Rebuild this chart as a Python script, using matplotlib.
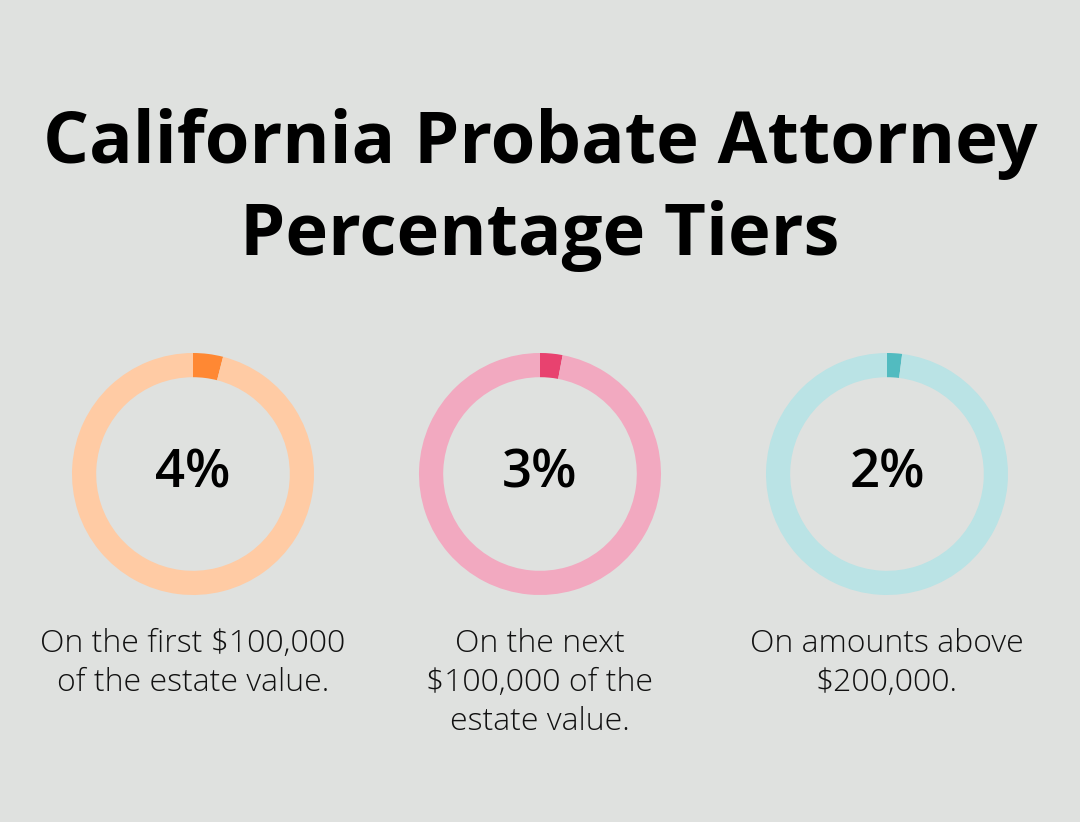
import matplotlib
matplotlib.use("Agg")
import matplotlib.pyplot as plt

title = "California Probate Attorney\nPercentage Tiers"
percents = [4, 3, 2]
labels = ["4%", "3%", "2%"]
descriptions = ["On the first $100,000\nof the estate value.",
                "On the next\n$100,000 of the\nestate value.",
                "On amounts above\n$200,000."]
dark_colors = ["#FF8833", "#E8426F", "#52BBC0"]
light_colors = ["#FFCBA4", "#F2A9C0", "#BAE3E5"]

W, H = 1080, 822
fig = plt.figure(figsize=(W/100, H/100), dpi=100)
fig.patch.set_facecolor("#DFE1DF")

fig.text(0.5, 1 - 190/H, title, ha="center", va="center", fontsize=52,
         fontweight="bold", family=["Open Sans", "DejaVu Sans"], linespacing=1.38)

centers = [193, 540, 887]
cy = 474
r = 121
for cx, p, lab, desc, dc, lc in zip(centers, percents, labels, descriptions, dark_colors, light_colors):
    ax = fig.add_axes([(cx - r)/W, (H - cy - r)/H, 2*r/W, 2*r/H])
    ax.pie([p, 100 - p], colors=[dc, lc], startangle=90, counterclock=False,
           radius=1.0, wedgeprops=dict(width=0.2, linewidth=0))
    ax.set_aspect("equal")
    ax.set_xlim(-1, 1); ax.set_ylim(-1, 1)
    ax.axis("off")
    ax.text(0, 0, lab, ha="center", va="center", fontsize=38, fontweight="semibold",
            family=["Open Sans", "DejaVu Sans"])
    fig.text(cx/W, 1 - 628/H, desc, ha="center", va="top", fontsize=23,
             fontweight="light", family=["Open Sans", "DejaVu Sans"], linespacing=1.3,
             color="#111111")

fig.savefig("out.png", dpi=100, facecolor=fig.get_facecolor())
